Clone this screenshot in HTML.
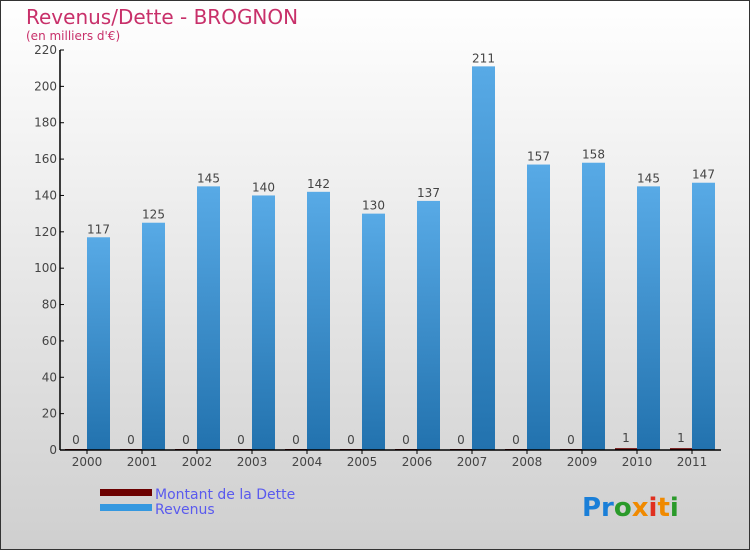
<!DOCTYPE html>
<html><head><meta charset="utf-8"><style>
html,body{margin:0;padding:0}
body{width:750px;height:550px;overflow:hidden;font-family:"DejaVu Sans","Liberation Sans",sans-serif}
</style></head><body>
<svg width="750" height="550" xmlns="http://www.w3.org/2000/svg">
<defs>
<linearGradient id="bg" x1="0" y1="0" x2="0" y2="1"><stop offset="0" stop-color="#ffffff"/><stop offset="1" stop-color="#cfcfcf"/></linearGradient>
<linearGradient id="rev" x1="0" y1="0" x2="0" y2="1"><stop offset="0" stop-color="#58aae6"/><stop offset="1" stop-color="#2272ae"/></linearGradient>
</defs>
<rect x="0.5" y="0.5" width="749" height="549" fill="url(#bg)" stroke="#333"/>
<text x="26" y="24" font-size="20" fill="#c8306a">Revenus/Dette - BROGNON</text>
<text x="26" y="40" font-size="12" fill="#c8306a">(en milliers d'€)</text>
<g id="yaxis"></g>
<g id="bars"></g>
<g id="xaxis"></g>
<rect x="100" y="489" width="52" height="7" fill="#6b0000"/>
<text x="155" y="499" font-size="14" fill="#5a5aee">Montant de la Dette</text>
<rect x="100" y="504" width="52" height="7" fill="#3498e0"/>
<text x="155" y="514" font-size="14" fill="#5a5aee">Revenus</text>
<text x="582" y="516" font-size="26" font-weight="bold" font-family="'DejaVu Sans',sans-serif"><tspan fill="#1a7fd8">Pr</tspan><tspan fill="#2a9a2a">o</tspan><tspan fill="#f08a00">x</tspan><tspan fill="#e03020">i</tspan><tspan fill="#f08a00">t</tspan><tspan fill="#2a9a2a">i</tspan></text>
</svg>
<script>
const years=["2000","2001","2002","2003","2004","2005","2006","2007","2008","2009","2010","2011"];
const revenus=[117,125,145,140,142,130,137,211,157,158,145,147];
const dette=[0,0,0,0,0,0,0,0,0,0,1,1];
const yTicks=[0,20,40,60,80,100,120,140,160,180,200,220];
const NS="http://www.w3.org/2000/svg";
const y0=450,yTop=50,yMax=220,x0=60;
function y(v){return y0-(v/yMax)*(y0-yTop);}
function xt(i){return 87+55*i;}
function mk(p,tag,a,txt){const e=document.createElementNS(NS,tag);for(const k in a)e.setAttribute(k,a[k]);if(txt!==undefined)e.textContent=txt;p.appendChild(e);return e;}
const ya=document.getElementById('yaxis'),ba=document.getElementById('bars'),xa=document.getElementById('xaxis');
mk(ya,'line',{x1:x0,y1:yTop,x2:x0,y2:y0,stroke:'#000','stroke-width':1.5});
yTicks.forEach(v=>{
  const l=mk(ya,'line',{x1:x0,y1:y(v),x2:x0+4,y2:y(v),stroke:'#000'});
  
  
  const t=mk(ya,'text',{x:x0-3,y:y(v)+4,'font-size':12,'text-anchor':'end',fill:'#444'},v);
  
  
});
years.forEach((yr,i)=>{
  const c=xt(i);
  const dh=Math.max(y0-y(dette[i]),1);
  const d=mk(ba,'rect',{x:c-22,y:y0-dh,width:22,height:dh,fill:'#6b0000'});
  
  
  const r=mk(ba,'rect',{x:c,y:y(revenus[i]),width:23,height:y0-y(revenus[i]),fill:'url(#rev)'});
  
  
  const dl=mk(ba,'text',{x:c-11,y:y(dette[i])-6,'font-size':12,'text-anchor':'middle',fill:'#444'},dette[i]);
  
  
  const rl=mk(ba,'text',{x:c+11.5,y:y(revenus[i])-4,'font-size':12,'text-anchor':'middle',fill:'#444'},revenus[i]);
  
  
  const tk=mk(xa,'line',{x1:c,y1:y0,x2:c,y2:y0+4,stroke:'#000'});
  
  
  const xl=mk(xa,'text',{x:c,y:y0+16,'font-size':12,'text-anchor':'middle',fill:'#444'},yr);
  
  
});
mk(xa,'line',{x1:x0,y1:y0,x2:721,y2:y0,stroke:'#000','stroke-width':1.5});
</script>
</body></html>
